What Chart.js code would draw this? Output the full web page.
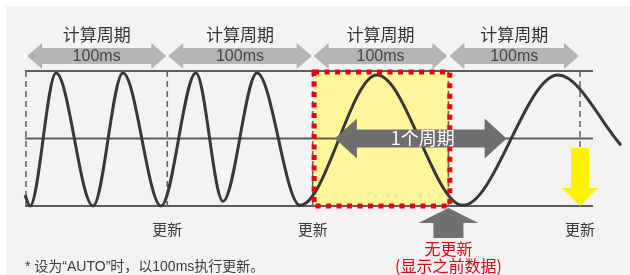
<!DOCTYPE html>
<html><head><meta charset="utf-8">
<script src="https://cdn.jsdelivr.net/npm/chart.js@4"></script>
<style>html,body{margin:0;padding:0;background:#fff;}#wrap{width:630px;height:275px;position:relative}</style>
</head><body><div id="wrap"><canvas id="c"></canvas></div>
<script>
// ---- data (time in ms, amplitude -1..1) ----
const waveTimes  = [-0.7, 2.9, 21.7, 48.4, 70.0, 97.5, 122.7, 142.2, 166.8, 197.8, 253.4, 315.5, 384.1, 429.6];
const waveValues = [-0.84, -1, 0.97, -1, 0.97, -1, 0.97, -0.93, 0.97, -0.99, 0.94, -0.99, 0.94, -0.1];
const cycleBounds = [0, 102, 207, 305, 400];
const cycleTitle = '计算周期';
const cycleLabel = '100ms';
const updateAt = [102, 207, 400];
const updateLabel = '更新';
const noUpdateAt = 305;
const noUpdateLabels = ['无更新', '(显示之前数据)'];
const heldWindow = [208, 306];
const periodSpan = [223, 347];
const periodLabel = '1个周期';
const footnote = '* 设为“AUTO”时，以100ms执行更新。';

const FONT = '"Liberation Sans","Noto Sans CJK SC",sans-serif';
const CJK = '"Noto Sans CJK SC","Liberation Sans",sans-serif';

function doubleArrow(ctx, x1, x2, yc, shaftH, headH, headL, color){
  ctx.save(); ctx.fillStyle = color; ctx.beginPath();
  ctx.moveTo(x1, yc);
  ctx.lineTo(x1+headL, yc-headH/2); ctx.lineTo(x1+headL, yc-shaftH/2);
  ctx.lineTo(x2-headL, yc-shaftH/2); ctx.lineTo(x2-headL, yc-headH/2);
  ctx.lineTo(x2, yc);
  ctx.lineTo(x2-headL, yc+headH/2); ctx.lineTo(x2-headL, yc+shaftH/2);
  ctx.lineTo(x1+headL, yc+shaftH/2); ctx.lineTo(x1+headL, yc+headH/2);
  ctx.closePath(); ctx.fill(); ctx.restore();
}
function vArrow(ctx, xc, tipY, baseY, shaftEndY, shaftW, headW, color){
  ctx.save(); ctx.fillStyle = color; ctx.beginPath();
  ctx.moveTo(xc, tipY);
  ctx.lineTo(xc+headW/2, baseY); ctx.lineTo(xc+shaftW/2, baseY);
  ctx.lineTo(xc+shaftW/2, shaftEndY); ctx.lineTo(xc-shaftW/2, shaftEndY);
  ctx.lineTo(xc-shaftW/2, baseY); ctx.lineTo(xc-headW/2, baseY);
  ctx.closePath(); ctx.fill(); ctx.restore();
}
function text(ctx, s, x, y, font, color, align){
  ctx.save(); ctx.font = font; ctx.fillStyle = color; ctx.textAlign = align||'center'; ctx.textBaseline='middle';
  ctx.fillText(s, x, y); ctx.restore();
}

const diagram = {
  id: 'diagram',
  beforeDraw(c){
    const ctx = c.ctx, X = c.scales.x, Y = c.scales.y;
    const px = v => X.getPixelForValue(v), py = v => Y.getPixelForValue(v);
    ctx.save();
    ctx.fillStyle = '#f3f3f3'; ctx.fillRect(6, 6, c.width-6, c.height-6);
    // held window fill
    ctx.fillStyle = '#fff79a';
    ctx.fillRect(px(heldWindow[0]), py(1), px(heldWindow[1])-px(heldWindow[0]), py(-1)-py(1));
    // horizontal lines
    ctx.strokeStyle = '#5c5c5c'; ctx.lineWidth = 2;
    [1, 0, -1].forEach(v => { ctx.beginPath(); ctx.moveTo(px(-0.7), py(v)); ctx.lineTo(px(409.4), py(v)); ctx.stroke(); });
    // dashed boundaries
    ctx.strokeStyle = '#666'; ctx.lineWidth = 1.6; ctx.setLineDash([6,4]);
    cycleBounds.forEach(b => { ctx.beginPath(); ctx.moveTo(px(b), py(1)); ctx.lineTo(px(b), py(-1)+2); ctx.stroke(); });
    ctx.restore();
  },
  afterDatasetsDraw(c){
    const ctx = c.ctx, X = c.scales.x, Y = c.scales.y;
    const px = v => X.getPixelForValue(v), py = v => Y.getPixelForValue(v);
    // red dotted frame
    ctx.save();
    ctx.strokeStyle = '#e60012'; ctx.lineWidth = 5; ctx.setLineDash([5,5.5]);
    ctx.strokeRect(px(heldWindow[0]), py(1)+1, px(heldWindow[1])-px(heldWindow[0]), py(-1)-py(1)-1);
    ctx.restore();
    // cycle arrows + labels
    const top = py(1);
    for (let i=0;i<cycleBounds.length-1;i++){
      const a = px(cycleBounds[i])+1, b = px(cycleBounds[i+1])-1;
      doubleArrow(ctx, a, b, top-15, 16, 26, 15, '#b5b5b5');
      text(ctx, cycleLabel, (a+b)/2, top-14, '16px '+FONT, '#454545');
      text(ctx, cycleTitle, (a+b)/2, top-36, '17px '+CJK, '#333333');
    }
    // one period arrow
    const pa = px(periodSpan[0]), pb = px(periodSpan[1]);
    doubleArrow(ctx, pa, pb, py(0), 18, 40, 22, '#6e6e6e');
    text(ctx, periodLabel, (pa+pb)/2+2, py(0), '18px '+CJK, '#ffffff');
    // yellow down arrow
    const yx = px(cycleBounds[cycleBounds.length-1]);
    vArrow(ctx, yx, py(-1), py(-1)-18, py(-1)-58, 18, 36, '#fff100');
    // gray up arrow
    const gx = px(noUpdateAt);
    vArrow(ctx, gx, py(-1)+2, py(-1)+17, py(-1)+32, 30, 60, '#707070');
    // labels
    updateAt.forEach(u => text(ctx, updateLabel, px(u), py(-1)+23, '15px '+CJK, '#3c3c3c'));
    text(ctx, noUpdateLabels[0], gx, py(-1)+43, '16px '+CJK, '#e60012');
    text(ctx, noUpdateLabels[1], gx, py(-1)+60, '16px '+CJK, '#e60012');
    text(ctx, footnote, 25, py(-1)+61, '14px '+FONT, '#3c3c3c', 'left');
  }
};

new Chart(document.getElementById('c'), {
  type: 'line',
  data: { datasets: [{
    data: waveTimes.map((t,i)=>({x:t, y:waveValues[i]})),
    borderColor: '#383838', borderWidth: 3, pointRadius: 0,
    cubicInterpolationMode: 'monotone', clip: false, fill: false
  }]},
  options: {
    responsive: true, maintainAspectRatio: false, animation: false,
    layout: { padding: { left: 26, right: 50, top: 71, bottom: 69 } },
    plugins: { legend: {display:false}, tooltip: {enabled:false} },
    scales: {
      x: { type:'linear', min:0, max:400, display:false },
      y: { min:-1, max:1, display:false }
    }
  },
  plugins: [diagram]
});
</script></body></html>
